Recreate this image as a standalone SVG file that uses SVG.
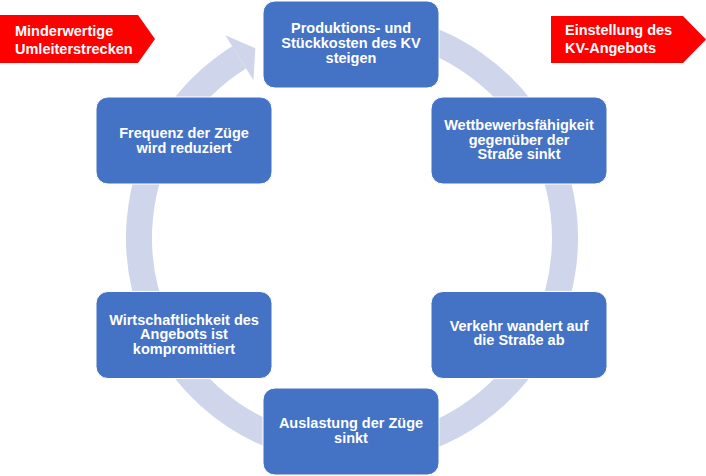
<svg xmlns="http://www.w3.org/2000/svg" width="706" height="476" viewBox="0 0 706 476">
  <style>
    .box { fill: #4472C4; stroke: #ffffff; stroke-width: 1; }
    .lbl { font-family: "Liberation Sans", Arial, sans-serif; font-weight: bold; font-size: 14.5px; fill: #ffffff; text-anchor: middle; }
    .tag { fill: #FF0000; }
    .tagtxt { font-family: "Liberation Sans", Arial, sans-serif; font-weight: bold; font-size: 14.5px; fill: #ffffff; }
    .ring { fill: none; stroke: #CFD5EA; stroke-width: 26; stroke-linecap: butt; }
    .head { fill: #CFD5EA; }
  </style>
  <rect width="706" height="476" fill="#ffffff"/>

  <g id="connectors">
    <path class="ring" d="M 388.99 28.24 A 213 213 0 1 1 239.13 57.37"/>
    <polygon class="head" points="225.35,35.32 255.30,48.21 253.43,80.26"/>
  </g>

  <g id="tag-umleiter">
    <polygon class="tag" points="0,15 138,15 155,39 138,63 0,63"/>
    <text class="tagtxt" x="15" y="36">Minderwertige</text>
    <text class="tagtxt" x="15" y="53.5">Umleiterstrecken</text>
  </g>

  <g id="tag-einstellung">
    <polygon class="tag" points="551,16 683,16 706,39.5 683,63 551,63"/>
    <text class="tagtxt" x="565" y="35">Einstellung des</text>
    <text class="tagtxt" x="565" y="52.7">KV-Angebots</text>
  </g>

  <g id="node-kosten">
    <rect class="box" x="263" y="1" width="176" height="87" rx="12"/>
    <text class="lbl" x="351" y="33.3">Produktions- und</text>
    <text class="lbl" x="351" y="48">Stückkosten des KV</text>
    <text class="lbl" x="351" y="62.7">steigen</text>
  </g>

  <g id="node-wettbewerb">
    <rect class="box" x="431" y="97" width="176" height="87" rx="12"/>
    <text class="lbl" x="519" y="130">Wettbewerbsfähigkeit</text>
    <text class="lbl" x="519" y="144.5">gegenüber der</text>
    <text class="lbl" x="519" y="159">Straße sinkt</text>
  </g>

  <g id="node-verkehr">
    <rect class="box" x="431" y="291.5" width="176" height="87" rx="12"/>
    <text class="lbl" x="519" y="330.7">Verkehr wandert auf</text>
    <text class="lbl" x="519" y="345.3">die Straße ab</text>
  </g>

  <g id="node-auslastung">
    <rect class="box" x="263" y="388" width="176" height="87" rx="12"/>
    <text class="lbl" x="351" y="427.7">Auslastung der Züge</text>
    <text class="lbl" x="351" y="442.7">sinkt</text>
  </g>

  <g id="node-wirtschaft">
    <rect class="box" x="96" y="291.5" width="176" height="87" rx="12"/>
    <text class="lbl" x="184" y="324.7">Wirtschaftlichkeit des</text>
    <text class="lbl" x="184" y="339.2">Angebots ist</text>
    <text class="lbl" x="184" y="354">kompromittiert</text>
  </g>

  <g id="node-frequenz">
    <rect class="box" x="96" y="97" width="176" height="87" rx="12"/>
    <text class="lbl" x="184" y="137.7">Frequenz der Züge</text>
    <text class="lbl" x="184" y="152.5">wird reduziert</text>
  </g>
</svg>
